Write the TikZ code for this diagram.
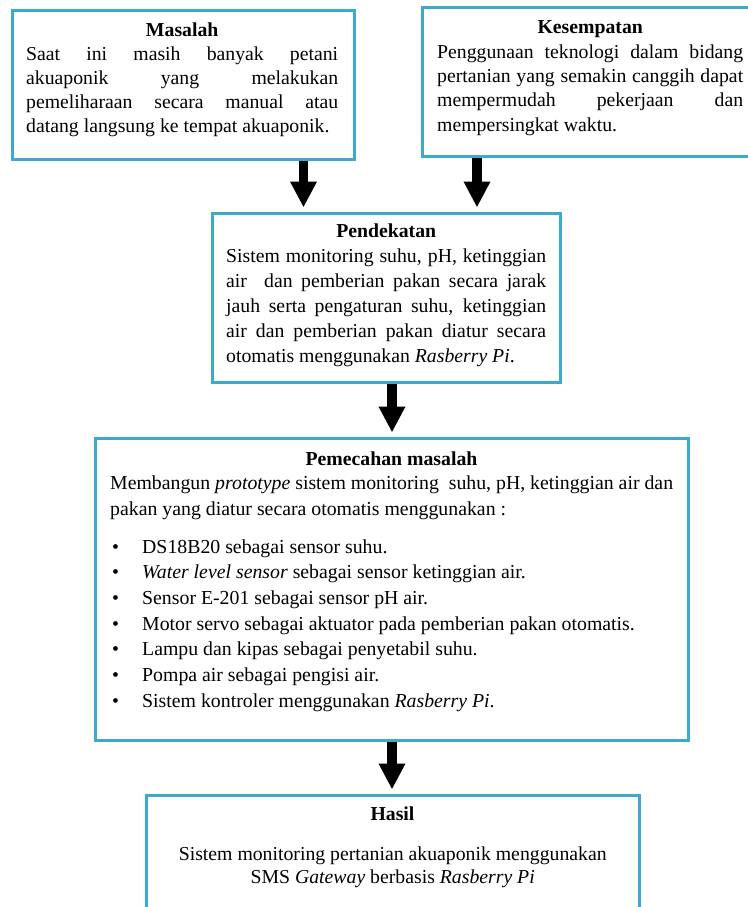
\documentclass[tikz,border=0pt]{standalone}
\usepackage{fontspec}
\setmainfont{Liberation Serif}
\usetikzlibrary{arrows.meta}
\definecolor{boxblue}{RGB}{60,170,205}
\tolerance=10000
\hbadness=10000
\hyphenpenalty=10000
\exhyphenpenalty=10000
\newcommand{\resetspaces}{\spaceskip=0pt\xspaceskip=0pt\relax}
\newcommand{\boxtitle}[1]{\makebox[\linewidth]{\bfseries #1}\par}
\newcommand{\centredline}[1]{\makebox[\linewidth]{#1}\par}
\newcommand{\jline}[1]{\makebox[\linewidth][s]{#1}\par}
\newcommand{\lastjline}[1]{\makebox[\linewidth][l]{#1}\par}
\newcommand{\itembullet}{\makebox[30pt][l]{\textbullet}}
\begin{document}
\begin{tikzpicture}[x=1pt,y=-1pt,
  box/.style={draw=boxblue, line width=3pt, inner sep=0pt, fill=white},
  txt/.style={inner sep=0pt, anchor=base west, align=left, font=\fontsize{19.75}{24}\selectfont, execute at begin node=\resetspaces},
  ctxt/.style={inner sep=0pt, anchor=base, font=\fontsize{19.75}{23}\selectfont, execute at begin node=\resetspaces},
  blockarr/.style={line width=9.5pt, -{Triangle[length=26pt,width=25pt]}, shorten >=4pt}
]
\useasboundingbox (0,0) rectangle (747,907);
\fill[white] (0,0) rectangle (747,907);

% boxes
\node[box, minimum width=342pt, minimum height=148pt] (masalah) at (183,85) {};
\node[box, minimum width=348pt, minimum height=148pt] (kesempatan) at (596,82) {};
\node[box, minimum width=348pt, minimum height=169pt] (pendekatan) at (386,297.5) {};
\node[box, minimum width=593pt, minimum height=302pt] (pemecahan) at (391.5,589) {};
\node[box, minimum width=493pt, minimum height=135pt] (hasil) at (392.5,862.5) {};

% texts
\node[txt, text width=312pt] (masalahT) at (26,37)
 {\boxtitle{Masalah}%
  \jline{Saat ini masih banyak petani}%
  \jline{akuaponik yang melakukan}%
  \jline{pemeliharaan secara manual atau}%
  \lastjline{datang langsung ke tempat akuaponik.}};

\node[txt, text width=306pt, font=\fontsize{19.75}{24.3}\selectfont] (kesempatanT) at (437,34)
 {\boxtitle{Kesempatan}%
  \jline{Penggunaan teknologi dalam bidang}%
  \jline{pertanian yang semakin canggih dapat}%
  \jline{mempermudah pekerjaan dan}%
  \lastjline{mempersingkat waktu.}};

\node[txt, text width=320pt, font=\fontsize{19.75}{25}\selectfont] (pendekatanT) at (226,237)
 {\boxtitle{Pendekatan}%
  \jline{Sistem monitoring suhu, pH, ketinggian}%
  \jline{air\ \ dan pemberian pakan secara jarak}%
  \jline{jauh serta pengaturan suhu, ketinggian}%
  \jline{air dan pemberian pakan diatur secara}%
  \lastjline{otomatis menggunakan \textit{Rasberry Pi}.}};

\node[ctxt] (pemecahanT) at (391.5,465) {\bfseries Pemecahan masalah};
\node[txt, text width=580pt, font=\fontsize{19.8}{26}\selectfont] (pemecahanI) at (110,489)
 {Membangun \textit{prototype} sistem monitoring\ \ suhu, pH, ketinggian air dan\\
  pakan yang diatur secara otomatis menggunakan :};
\node[txt, text width=560pt, font=\fontsize{19.8}{25.67}\selectfont] (pemecahanL) at (112,553)
 {\itembullet DS18B20 sebagai sensor suhu.\\
  \itembullet\textit{Water level sensor} sebagai sensor ketinggian air.\\
  \itembullet Sensor E-201 sebagai sensor pH air.\\
  \itembullet Motor servo sebagai aktuator pada pemberian pakan otomatis.\\
  \itembullet Lampu dan kipas sebagai penyetabil suhu.\\
  \itembullet Pompa air sebagai pengisi air.\\
  \itembullet Sistem kontroler menggunakan \textit{Rasberry Pi}.};

\node[ctxt] (hasilT) at (392.5,820) {\bfseries Hasil};
\node[txt, text width=480pt, font=\fontsize{19.75}{23}\selectfont] (hasilB) at (152.5,860)
 {\centredline{Sistem monitoring pertanian akuaponik menggunakan}%
  \centredline{SMS \textit{Gateway} berbasis \textit{Rasberry Pi}}};

% arrows
\coordinate (xl) at (303.5,0);
\coordinate (xr) at (477,0);
\coordinate (xm) at (392,0);
\draw[blockarr] (masalah.south -| xl) -- (pendekatan.north -| xl);
\draw[blockarr] (kesempatan.south -| xr) -- (pendekatan.north -| xr);
\draw[blockarr] (pendekatan.south -| xm) -- (pemecahan.north -| xm);
\draw[blockarr] (pemecahan.south -| xm) -- (hasil.north -| xm);
\end{tikzpicture}
\end{document}
